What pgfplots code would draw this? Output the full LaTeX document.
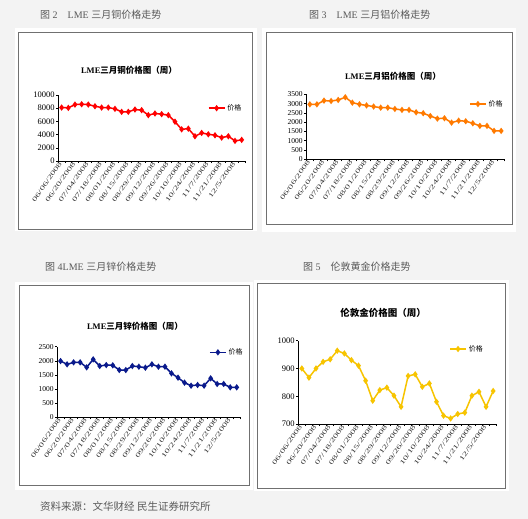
\documentclass[border=0pt]{standalone}
\usepackage{pgfplots}
\pgfplotsset{compat=1.18}
\usepackage{fontspec}
\setmainfont{Liberation Serif}
\newfontfamily\cjk{Noto Sans CJK SC}
\definecolor{bgc}{HTML}{F3F3F3}
\definecolor{frame}{HTML}{707070}
\definecolor{capt}{HTML}{5A5A5A}
\definecolor{alu}{HTML}{FF7A00}
\definecolor{zinc}{HTML}{0A1A8C}
\definecolor{gold}{HTML}{F7C400}
\pgfplotsset{
  panel/.style={
    scale only axis,
    axis lines=left,
    axis line style={-, line width=0.6pt},
    tick align=outside,
    major tick length=2pt,
    tick style={black, line width=0.5pt},
    xmin=-0.5, xmax=27.5,
    xtick={-0.5,0.5,...,27.5},
    xticklabels={},
    extra x ticks={0,2,...,26},
    extra x tick labels={06/06/2008,06/20/2008,07/04/2008,07/18/2008,08/01/2008,08/15/2008,08/29/2008,09/12/2008,09/26/2008,10/10/2008,10/24/2008,11/7/2008,11/21/2008,12/5/2008},
    extra x tick style={major tick length=0pt, xticklabel style={rotate=55, xscale=1.65, anchor=east, font=\fontsize{6.3}{7}\selectfont, text=black!80, inner sep=1pt}},
    scaled y ticks=false,
    yticklabel style={font=\fontsize{8.5}{9}\selectfont, /pgf/number format/1000 sep={}, inner sep=1.5pt},
    /pgf/number format/assume math mode=true,
    clip=false,
    legend style={draw=none, fill=none, font=\cjk\fontsize{7}{8}\selectfont, anchor=west, inner sep=0pt},
    legend cell align=left,
    legend image code/.code={\draw[#1, mark repeat=2, mark phase=2] plot coordinates {(0pt,0pt) (8pt,0pt) (16pt,0pt)};},
  },
  ser/.style={line width=1.5pt, mark=diamond*, mark size=2pt, mark options={solid}},
}
\begin{document}
\begin{tikzpicture}
\useasboundingbox (0,0) rectangle (528pt,-519pt);
\fill[bgc] (0,0) rectangle (528pt,-519pt);
% panel backgrounds and frames
\fill[white] (15pt,-28pt) rectangle (257pt,-231pt);
\draw[frame, line width=0.8pt] (18pt,-32pt) rectangle (252pt,-229pt);
\fill[white] (262pt,-28pt) rectangle (516pt,-232pt);
\draw[frame, line width=0.8pt] (266pt,-32pt) rectangle (512pt,-224pt);
\fill[white] (15pt,-282pt) rectangle (253pt,-490pt);
\draw[frame, line width=0.8pt] (19pt,-285pt) rectangle (249pt,-485pt);
\fill[white] (254pt,-280pt) rectangle (509pt,-491pt);
\draw[frame, line width=0.8pt] (257pt,-283pt) rectangle (505pt,-488pt);
% captions
\node[anchor=west, text=capt, font=\fontsize{10}{12}\selectfont, inner sep=0pt] at (40pt,-15pt) {{\cjk 图} 2\quad LME {\cjk 三月铜价格走势}};
\node[anchor=west, text=capt, font=\fontsize{10}{12}\selectfont, inner sep=0pt] at (309pt,-15pt) {{\cjk 图} 3\quad LME {\cjk 三月铝价格走势}};
\node[anchor=west, text=capt, font=\fontsize{10}{12}\selectfont, inner sep=0pt] at (45pt,-267pt) {{\cjk 图} 4LME {\cjk 三月锌价格走势}};
\node[anchor=west, text=capt, font=\fontsize{10}{12}\selectfont, inner sep=0pt] at (303pt,-267pt) {{\cjk 图} 5\quad {\cjk 伦敦黄金价格走势}};
\node[anchor=west, text=capt, font=\cjk\fontsize{10.5}{12}\selectfont, inner sep=0pt] at (40pt,-506pt) {资料来源：文华财经\ 民生证券研究所};
% chart titles
\node[font=\bfseries\fontsize{8.5}{10}\selectfont] at (129pt,-70pt) {LME{\cjk\bfseries 三月铜价格图（周）}};
\node[font=\bfseries\fontsize{8.5}{10}\selectfont] at (393pt,-76pt) {LME{\cjk\bfseries 三月铝价格图（周）}};
\node[font=\bfseries\fontsize{8.5}{10}\selectfont] at (135pt,-326pt) {LME{\cjk\bfseries 三月锌价格图（周）}};
\node[font=\cjk\bfseries\fontsize{9.5}{11}\selectfont] at (383pt,-313pt) {伦敦金价格图（周）};

% copper
\begin{axis}[panel, at={(58.3pt,-161pt)}, anchor=south west, width=186.7pt, height=66pt,
  ymin=0, ymax=10000, ytick={0,2000,...,10000},
  legend style={at={(0.8,0.8)}}]
\addplot[ser, color=red] coordinates {
(0,8100) (1,8050) (2,8550) (3,8600) (4,8550) (5,8300) (6,8100) (7,8100) (8,7900) (9,7450)
(10,7450) (11,7800) (12,7700) (13,6950) (14,7200) (15,7100) (16,6950) (17,5950) (18,4800) (19,4900)
(20,3750) (21,4250) (22,4050) (23,3900) (24,3550) (25,3750) (26,3050) (27,3200)};
\addlegendentry{价格}
\end{axis}

% aluminium
\begin{axis}[panel, at={(306.3pt,-159.3pt)}, anchor=south west, width=198.4pt, height=65pt,
  ymin=0, ymax=3500, ytick={0,500,...,3500},
  yticklabel style={font=\fontsize{7.5}{8}\selectfont},
  legend style={at={(0.82,0.85)}}]
\addplot[ser, color=alu] coordinates {
(0,2960) (1,2960) (2,3160) (3,3140) (4,3195) (5,3340) (6,3050) (7,2960) (8,2900) (9,2840)
(10,2780) (11,2780) (12,2710) (13,2660) (14,2660) (15,2530) (16,2480) (17,2330) (18,2190) (19,2210)
(20,1975) (21,2080) (22,2050) (23,1940) (24,1800) (25,1800) (26,1530) (27,1530)};
\addlegendentry{价格}
\end{axis}

% zinc
\begin{axis}[panel, at={(57.3pt,-417.3pt)}, anchor=south west, width=182.7pt, height=70.6pt,
  ymin=0, ymax=2500, ytick={0,500,...,2500},
  yticklabel style={font=\fontsize{7.5}{8}\selectfont},
  legend style={at={(0.83,0.92)}}]
\addplot[ser, color=zinc] coordinates {
(0,1993) (1,1875) (2,1946) (3,1946) (4,1769) (5,2052) (6,1816) (7,1851) (8,1840) (9,1675)
(10,1675) (11,1816) (12,1792) (13,1757) (14,1875) (15,1792) (16,1792) (17,1557) (18,1403) (19,1226)
(20,1120) (21,1144) (22,1120) (23,1380) (24,1180) (25,1180) (26,1061) (27,1061)};
\addlegendentry{价格}
\end{axis}

% gold
\begin{axis}[panel, at={(298.3pt,-424pt)}, anchor=south west, width=198.4pt, height=83.3pt,
  ymin=700, ymax=1000, ytick={700,800,...,1000},
  yticklabel style={font=\fontsize{8.5}{9}\selectfont},
  legend style={at={(0.76,0.9)}}]
\addplot[ser, color=gold] coordinates {
(0,900) (1,867) (2,900) (3,924) (4,933) (5,964) (6,954) (7,930) (8,910) (9,856)
(10,784) (11,822) (12,831) (13,802) (14,762) (15,873) (16,879) (17,834) (18,846) (19,780)
(20,730) (21,720) (22,736) (23,741) (24,802) (25,816) (26,762) (27,819)};
\addlegendentry{价格}
\end{axis}
\end{tikzpicture}
\end{document}
